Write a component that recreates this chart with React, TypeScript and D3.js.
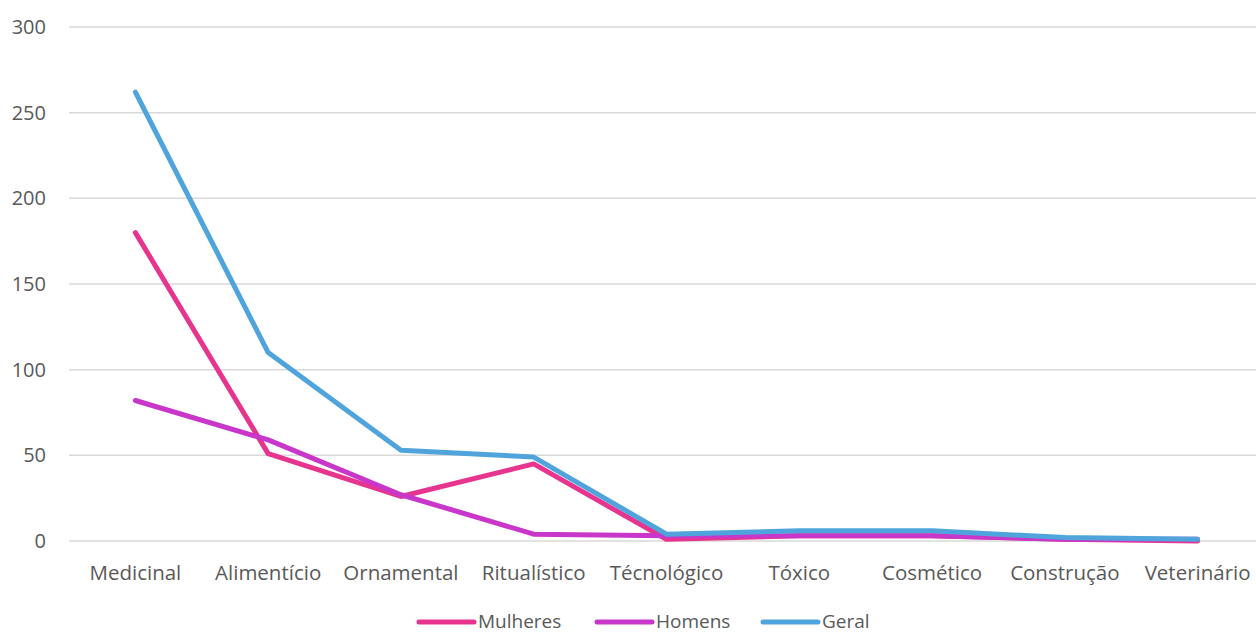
import React from "react";
import * as d3 from "d3";

const categories = [
  "Medicinal",
  "Alimentício",
  "Ornamental",
  "Ritualístico",
  "Técnológico",
  "Tóxico",
  "Cosmético",
  "Construção",
  "Veterinário",
];
const mulheres = [180, 51, 26, 45, 1, 3, 3, 1, 0];
const homens = [82, 59, 27, 4, 3, 3, 3, 1, 1];
const geral = [262, 110, 53, 49, 4, 6, 6, 2, 1];
const yTicks = [0, 50, 100, 150, 200, 250, 300];

const seriesList = [
  { name: "Mulheres", values: mulheres, color: "#E6348F" },
  { name: "Homens", values: homens, color: "#C837C9" },
  { name: "Geral", values: geral, color: "#4FA5DB" },
];

const W = 1256;
const H = 634;
const FONT = "'Open Sans', 'Noto Sans', sans-serif";

export default function App() {
  const x = d3.scaleBand<string>().domain(categories).range([69, 1264]);
  const y = d3.scaleLinear().domain([0, 300]).range([541, 27]);
  const line = d3
    .line<number>()
    .x((_, i) => (x(categories[i]) as number) + x.bandwidth() / 2)
    .y((d) => y(d));

  const legendX = [419, 597, 763];

  return (
    <svg
      width={W}
      height={H}
      style={{ position: "absolute", left: 0, top: 0, background: "#fff" }}
      fontFamily={FONT}
    >
      {yTicks.map((t) => (
        <g key={t}>
          <line x1={69} x2={1256} y1={y(t)} y2={y(t)} stroke="#D9D9D9" strokeWidth={1.5} />
          <text x={46} y={y(t)} dy="0.35em" textAnchor="end" fontSize={20} fill="#595959">
            {t}
          </text>
        </g>
      ))}
      {categories.map((c) => (
        <text
          key={c}
          x={(x(c) as number) + x.bandwidth() / 2}
          y={580}
          textAnchor="middle"
          fontSize={20.5}
          fill="#595959"
        >
          {c}
        </text>
      ))}
      {seriesList.map((s) => (
        <path
          key={s.name}
          d={line(s.values) ?? ""}
          fill="none"
          stroke={s.color}
          strokeWidth={5}
          strokeLinecap="round"
          strokeLinejoin="round"
        />
      ))}
      {seriesList.map((s, i) => (
        <g key={s.name} transform={`translate(${legendX[i]},622)`}>
          <line x1={0} x2={55} y1={0} y2={0} stroke={s.color} strokeWidth={5} strokeLinecap="round" />
          <text x={59} y={0} dy="0.33em" fontSize={19} fill="#595959">
            {s.name}
          </text>
        </g>
      ))}
    </svg>
  );
}
